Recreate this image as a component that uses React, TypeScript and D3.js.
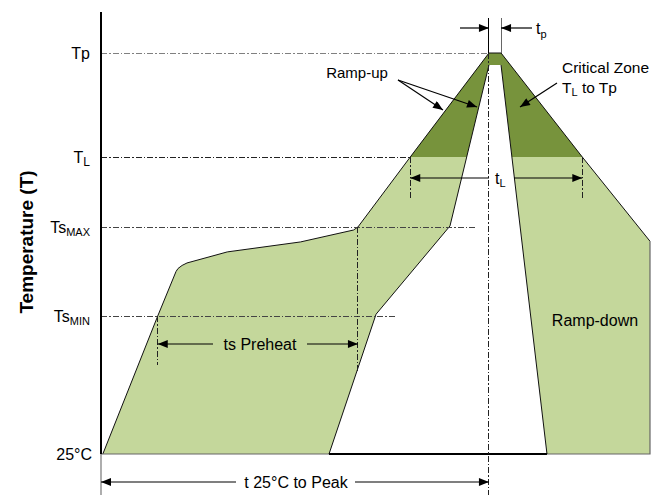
import React from "react";
import * as d3 from "d3";

// ---- data (schematic reflow profile: time in s, temperature in °C) ----
const levelTemps = [260, 217, 150, 100, 25];
const levelMain = ["Tp", "T", "Ts", "Ts", "25°C"];
const levelSub = ["", "L", "MAX", "MIN", ""];

// outer envelope (max profile then ramp-down)
const outerTime = [1, 31, 41, 42.1, 44.3, 47, 69, 109, 138, 140.4, 169, 212, 218.6, 263, 300];
const outerTemp = [25, 100, 125, 126.7, 128.4, 129.8, 136, 141.6, 148.3, 150, 217, 260, 260, 217, 142];
// inner (min profile) notch
const innerTime = [124.6, 150.3, 190.7, 212, 218.6, 243.7];
const innerTemp = [25, 101, 151, 255, 255, 25];

const tEnd = 300;
const tTsMin = 31;
const tTsMax = 140.4;
const tLStart = 169;
const tLEnd = 263;
const tpStart = 212;
const tpEnd = 218.6;

const W = 662;
const H = 495;
const FONT = "'Liberation Sans', Arial, Helvetica, sans-serif";
const LIGHT = "#c4d79b";
const DARK = "#77933c";

export default function App() {
  const x = d3.scaleLinear().domain([0, tEnd]).range([101, 650]);
  const y = d3.scaleLinear().domain([25, 100, 150, 217, 260]).range([454, 316, 227, 157, 53]);

  const outerPts: [number, number][] = outerTime.map((t, i) => [x(t), y(outerTemp[i])]);
  const innerPts: [number, number][] = innerTime.map((t, i) => [x(t), y(innerTemp[i])]);
  const line = d3.line();
  const closedOuter = line([...outerPts, [x(tEnd), y(25)]])! + "Z";
  const innerFill = line(innerPts)! + "Z";

  const yTL = y(217);
  const dashDot = "6,2,1.5,2";

  const guides = [
    { temp: 260, tEnd: tpStart, color: "#808080" },
    { temp: 217, tEnd: tLStart, color: "#222" },
    { temp: 150, tEnd: 205.5, color: "#444" },
    { temp: 100, tEnd: 161.7, color: "#444" },
  ];

  const vGuides = [
    { t: tTsMin, from: 100, toY: 365 },
    { t: tTsMax, from: 150, toY: 372 },
    { t: tLStart, from: 217, toY: 200 },
    { t: tLEnd, from: 217, toY: 200 },
  ];

  const arrowLine = (x1: number, y1: number, x2: number, y2: number, key: string) => (
    <line key={key} x1={x1} y1={y1} x2={x2} y2={y2} stroke="#000" strokeWidth={1.2} markerEnd="url(#ah)" />
  );

  return (
    <svg width={W} height={H} style={{ position: "absolute", left: 0, top: 0, background: "#fff" }} fontFamily={FONT}>
      <defs>
        <marker id="ah" viewBox="0 0 10 8" refX="10" refY="4" markerWidth="11" markerHeight="8" markerUnits="userSpaceOnUse" orient="auto">
          <path d="M0,0 L10,4 L0,8 Z" fill="#000" />
        </marker>
        <clipPath id="crit">
          <rect x={0} y={0} width={W} height={yTL} />
        </clipPath>
      </defs>

      {/* fills */}
      <path d={closedOuter} fill={LIGHT} />
      <path d={closedOuter} fill={DARK} clipPath="url(#crit)" />
      <path d={innerFill} fill="#fff" />

      {/* outlines */}
      <path d={line(outerPts)!} fill="none" stroke="#111" strokeWidth={1} />
      <path d={line([outerPts[outerPts.length - 1], [x(tEnd), y(25)], [x(0), y(25)]])!} fill="none" stroke="#666" strokeWidth={1.2} />
      <path d={line(innerPts.slice(0, 4))!} fill="none" stroke="#111" strokeWidth={1} />
      <path d={line(innerPts.slice(4))!} fill="none" stroke="#111" strokeWidth={1} />
      <line x1={x(innerTime[0])} x2={x(innerTime[innerTime.length - 1])} y1={y(25)} y2={y(25)} stroke="#000" strokeWidth={2} />

      {/* horizontal dash-dot guides */}
      {guides.map((g, i) => (
        <line key={"g" + i} x1={x(0)} x2={x(g.tEnd)} y1={y(g.temp)} y2={y(g.temp)} stroke={g.color} strokeWidth={1} strokeDasharray={dashDot} shapeRendering="crispEdges" />
      ))}
      {/* vertical guides */}
      {vGuides.map((g, i) => (
        <line key={"v" + i} x1={x(g.t)} x2={x(g.t)} y1={y(g.from)} y2={g.toY} stroke="#222" strokeWidth={1} strokeDasharray={dashDot} shapeRendering="crispEdges" />
      ))}
      <line x1={x(tpStart)} x2={x(tpStart)} y1={y(260)} y2={H} stroke="#222" strokeWidth={1} strokeDasharray={dashDot} shapeRendering="crispEdges" />
      <line x1={x(tpStart)} x2={x(tpStart)} y1={18} y2={y(260)} stroke="#000" strokeWidth={1} shapeRendering="crispEdges" />
      <line x1={x(tpEnd)} x2={x(tpEnd)} y1={18} y2={y(260)} stroke="#666" strokeWidth={1} shapeRendering="crispEdges" />

      {/* axis */}
      <line x1={x(0)} x2={x(0)} y1={12} y2={y(25)} stroke="#000" strokeWidth={2} />
      <line x1={x(0)} x2={x(0)} y1={y(25)} y2={H} stroke="#777" strokeWidth={1.2} />

      {/* tick labels */}
      {levelTemps.map((t, i) => (
        <text key={"l" + i} x={i === 4 ? 92 : 90} y={y(t) + 6} textAnchor="end" fontSize={16} fill="#000">
          {levelMain[i]}
          {levelSub[i] && (
            <tspan fontSize={levelSub[i].length > 1 ? 11 : 12} dy={3}>{levelSub[i]}</tspan>
          )}
        </text>
      ))}

      <text transform="translate(33,242) rotate(-90)" textAnchor="middle" fontSize={19} fontWeight="bold" fill="#000">
        Temperature (T)
      </text>

      {/* tp arrows */}
      {arrowLine(460, 28, x(tpStart), 28, "tp1")}
      {arrowLine(532, 28, x(tpEnd), 28, "tp2")}
      <text x={536} y={34} fontSize={16}>
        t<tspan fontSize={11} dy={4}>p</tspan>
      </text>

      {/* tL arrows */}
      {arrowLine(x(tpStart), 178, x(tLStart), 178, "tl1")}
      {arrowLine(514, 178, x(tLEnd), 178, "tl2")}
      <text x={495} y={184} fontSize={16}>
        t<tspan fontSize={11} dy={3}>L</tspan>
      </text>

      {/* ts preheat */}
      {arrowLine(213, 344, x(tTsMin), 344, "ts1")}
      {arrowLine(307, 344, x(tTsMax), 344, "ts2")}
      <text x={260} y={350} textAnchor="middle" fontSize={16}>ts Preheat</text>

      {/* t 25°C to peak */}
      {arrowLine(236, 482, x(0), 482, "pk1")}
      {arrowLine(355, 482, x(tpStart), 482, "pk2")}
      <text x={296} y={488} textAnchor="middle" fontSize={16}>t 25°C to Peak</text>

      {/* ramp-up */}
      <text x={357} y={78} textAnchor="middle" fontSize={15}>Ramp-up</text>
      {arrowLine(398, 80, 443, 110, "ru1")}
      {arrowLine(398, 80, 477, 107, "ru2")}

      {/* critical zone */}
      <text x={562} y={73} fontSize={15.5}>Critical Zone</text>
      <text x={562} y={93} fontSize={15.5}>
        T<tspan fontSize={11} dy={3}>L</tspan>
        <tspan dy={-3}> to Tp</tspan>
      </text>
      {arrowLine(557, 83, 520, 107, "cz")}

      <text x={595} y={326} textAnchor="middle" fontSize={16}>Ramp-down</text>
    </svg>
  );
}
